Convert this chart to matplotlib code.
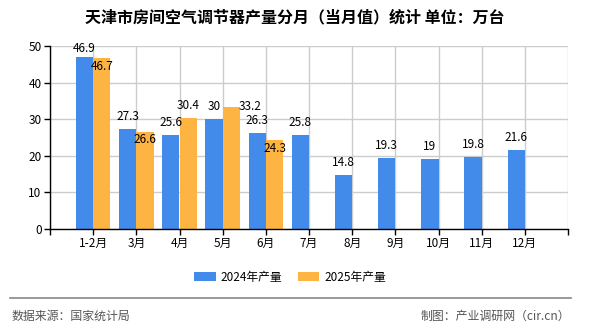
import matplotlib
matplotlib.use("Agg")
import matplotlib.pyplot as plt
from matplotlib.patches import Patch
from matplotlib.lines import Line2D

plt.rcParams['font.family'] = ['Noto Sans CJK SC', 'DejaVu Sans']

categories = ['1-2月', '3月', '4月', '5月', '6月', '7月', '8月', '9月', '10月', '11月', '12月']
values_2024 = [46.9, 27.3, 25.6, 30, 26.3, 25.8, 14.8, 19.3, 19, 19.8, 21.6]
values_2025 = [46.7, 26.6, 30.4, 33.2, 24.3]
series_names = ['2024年产量', '2025年产量']
y_ticks = [0, 10, 20, 30, 40, 50]

title = '天津市房间空气调节器产量分月（当月值）统计 单位：万台'
source_text = '数据来源：国家统计局'
credit_text = '制图：产业调研网（cir.cn）'

# label offsets in pixels (dx, dy) relative to bar top
offs_2024 = [(0, 8.4)] + [(0, 12.5)] * 10
offs_2025 = [(0, -8.5), (0, -8.3), (0, 12.7), (19, 1), (0, -8.3)]

c_blue = '#428BEB'
c_orange = '#FDB443'

DPI = 100
W, H = 590, 330
fig = plt.figure(figsize=(W / DPI, H / DPI), dpi=DPI)
ax = fig.add_axes([50 / W, (H - 229) / H, 518 / W, 183 / H])

pos = list(range(1, len(categories) + 1))
bw = 0.4
x24 = [p - bw / 2 for p in pos]
x25 = [p + bw / 2 for p in pos[:len(values_2025)]]
ax.bar(x24, values_2024, width=bw, color=c_blue, zorder=3, linewidth=0)
ax.bar(x25, values_2025, width=bw, color=c_orange, zorder=3, linewidth=0)

px2pt = 72 / DPI
for x, v, (dx, dy) in zip(x24, values_2024, offs_2024):
    ax.annotate(f'{v:g}', (x, v), xytext=(dx * px2pt, dy * px2pt), textcoords='offset points',
                ha='center', va='center', fontsize=8.5, color='#000000', zorder=5)
for x, v, (dx, dy) in zip(x25, values_2025, offs_2025):
    ax.annotate(f'{v:g}', (x, v), xytext=(dx * px2pt, dy * px2pt), textcoords='offset points',
                ha='center', va='center', fontsize=8.5, color='#000000', zorder=5)

ax.set_xlim(0, len(categories) + 1)
ax.set_ylim(0, 50)
ax.set_xticks(list(range(0, len(categories) + 2)))
ax.set_xticklabels([''] + categories + [''], fontsize=8.5)
ax.set_yticks(y_ticks)
ax.set_yticklabels([str(t) for t in y_ticks], fontsize=8.5)
ax.tick_params(axis='both', direction='out', length=4, width=1, color='#000000', pad=2)
ax.grid(True, color='#cccccc', linewidth=1, zorder=0)
ax.set_axisbelow(True)
for s in ['top', 'right']:
    ax.spines[s].set_visible(False)
for s in ['left', 'bottom']:
    ax.spines[s].set_color('#000000')
    ax.spines[s].set_linewidth(1)
    ax.spines[s].set_zorder(4)

fig.text(294.5 / W, 1 - 17 / H, title, ha='center', va='center', fontsize=11.5,
         fontweight='bold', color='#000000')

handles = [Patch(facecolor=c_blue, edgecolor='none'), Patch(facecolor=c_orange, edgecolor='none')]
fig.legend(handles, series_names, loc='center', bbox_to_anchor=(290 / W, 1 - 277 / H), ncol=2,
           frameon=False, fontsize=8.5, handlelength=1.85, handleheight=0.7,
           handletextpad=0.4, columnspacing=1.3, borderpad=0, borderaxespad=0)

fig.add_artist(Line2D([10 / W, 571 / W], [1 - 298.3 / H, 1 - 298.3 / H], color='#888888',
                      linewidth=1.2, transform=fig.transFigure))
fig.text(12 / W, 1 - 316.5 / H, source_text, ha='left', va='center', fontsize=8.6, color='#555555')
fig.text(570 / W, 1 - 316.5 / H, credit_text, ha='right', va='center', fontsize=8.6, color='#555555')

fig.savefig('out.png', dpi=DPI)
